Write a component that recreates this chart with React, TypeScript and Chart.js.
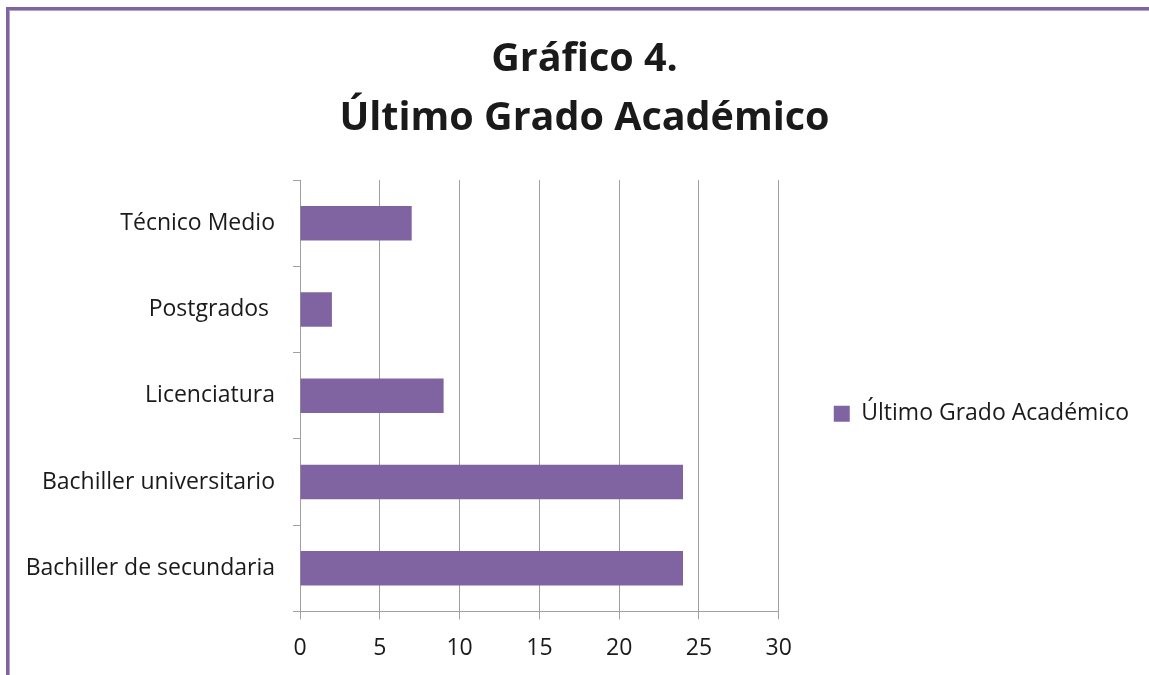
import React, { useEffect, useRef } from "react";
import { Chart, registerables } from "chart.js";

Chart.register(...registerables);

const categories = [
  "Técnico Medio",
  "Postgrados ",
  "Licenciatura",
  "Bachiller universitario",
  "Bachiller de secundaria",
];
const values = [7, 2, 9, 24, 24];
const seriesName = "Último Grado Académico";
const titleLines = ["Gráfico 4.", "Último Grado Académico"];
const xMin = 0;
const xMax = 30;
const xStep = 5;

const PURPLE = "#8064A2";
const GRID = "#A0A0A0";
const TEXT = "#1a1a1a";
const FONT = "'Open Sans', sans-serif";

const shiftTitle = {
  id: "shiftTitle",
  afterLayout(chart: any) {
    const t = chart.titleBlock;
    if (t) {
      t.left += 5;
      t.right += 5;
    }
  },
};

export default function App() {
  const ref = useRef<HTMLCanvasElement | null>(null);

  useEffect(() => {
    if (!ref.current) return;
    const chart = new Chart(ref.current, {
      type: "bar",
      data: {
        labels: categories,
        datasets: [
          {
            label: seriesName,
            data: values,
            backgroundColor: PURPLE,
            borderWidth: 0,
            categoryPercentage: 1,
            barPercentage: 0.4,
          },
        ],
      },
      plugins: [shiftTitle],
      options: {
        indexAxis: "y",
        animation: false,
        responsive: false,
        layout: { padding: { left: 10, right: 10, top: 10, bottom: -2 } },
        plugins: {
          tooltip: { enabled: false },
          title: {
            display: true,
            text: titleLines,
            color: TEXT,
            font: { family: FONT, size: 39.5, weight: "bold", lineHeight: "59px" },
            padding: { top: 10, bottom: 32 },
          },
          legend: {
            position: "right",
            fullSize: false,
            maxWidth: 420,
            title: {
              display: true,
              text: "",
              font: { size: 12 },
              padding: { top: 0, bottom: 21.6 },
            },
            labels: {
              boxWidth: 16,
              boxHeight: 16,
              padding: 55,
              color: TEXT,
              font: { family: FONT, size: 23 },
            },
          },
        },
        scales: {
          x: {
            type: "linear",
            min: xMin,
            max: xMax,
            ticks: {
              stepSize: xStep,
              color: TEXT,
              font: { family: FONT, size: 23 },
              padding: 15,
            },
            grid: {
              color: GRID,
              lineWidth: 1,
              drawOnChartArea: true,
              drawTicks: true,
              tickLength: 8,
            },
            border: { color: GRID, width: 1 },
          },
          y: {
            type: "category",
            ticks: {
              color: TEXT,
              font: { family: FONT, size: 23 },
              padding: 18,
            },
            grid: {
              color: GRID,
              offset: true,
              drawOnChartArea: false,
              drawTicks: true,
              tickLength: 7,
            },
            border: { color: GRID, width: 1 },
            afterFit: (scale: any) => {
              scale.width = 280;
            },
          },
        },
      },
    });
    return () => chart.destroy();
  }, []);

  return (
    <div
      style={{
        position: "absolute",
        left: 6,
        top: 7,
        width: 1143,
        height: 668,
        boxSizing: "border-box",
        borderTop: `3px solid ${PURPLE}`,
        borderLeft: `3px solid ${PURPLE}`,
        boxShadow: "inset 1px 1px 0 #B3A2C7",
        background: "#fff",
      }}
    >
      <canvas
        ref={ref}
        width={1139}
        height={665}
        style={{ position: "absolute", left: 1, top: 0, display: "block" }}
      />
    </div>
  );
}
